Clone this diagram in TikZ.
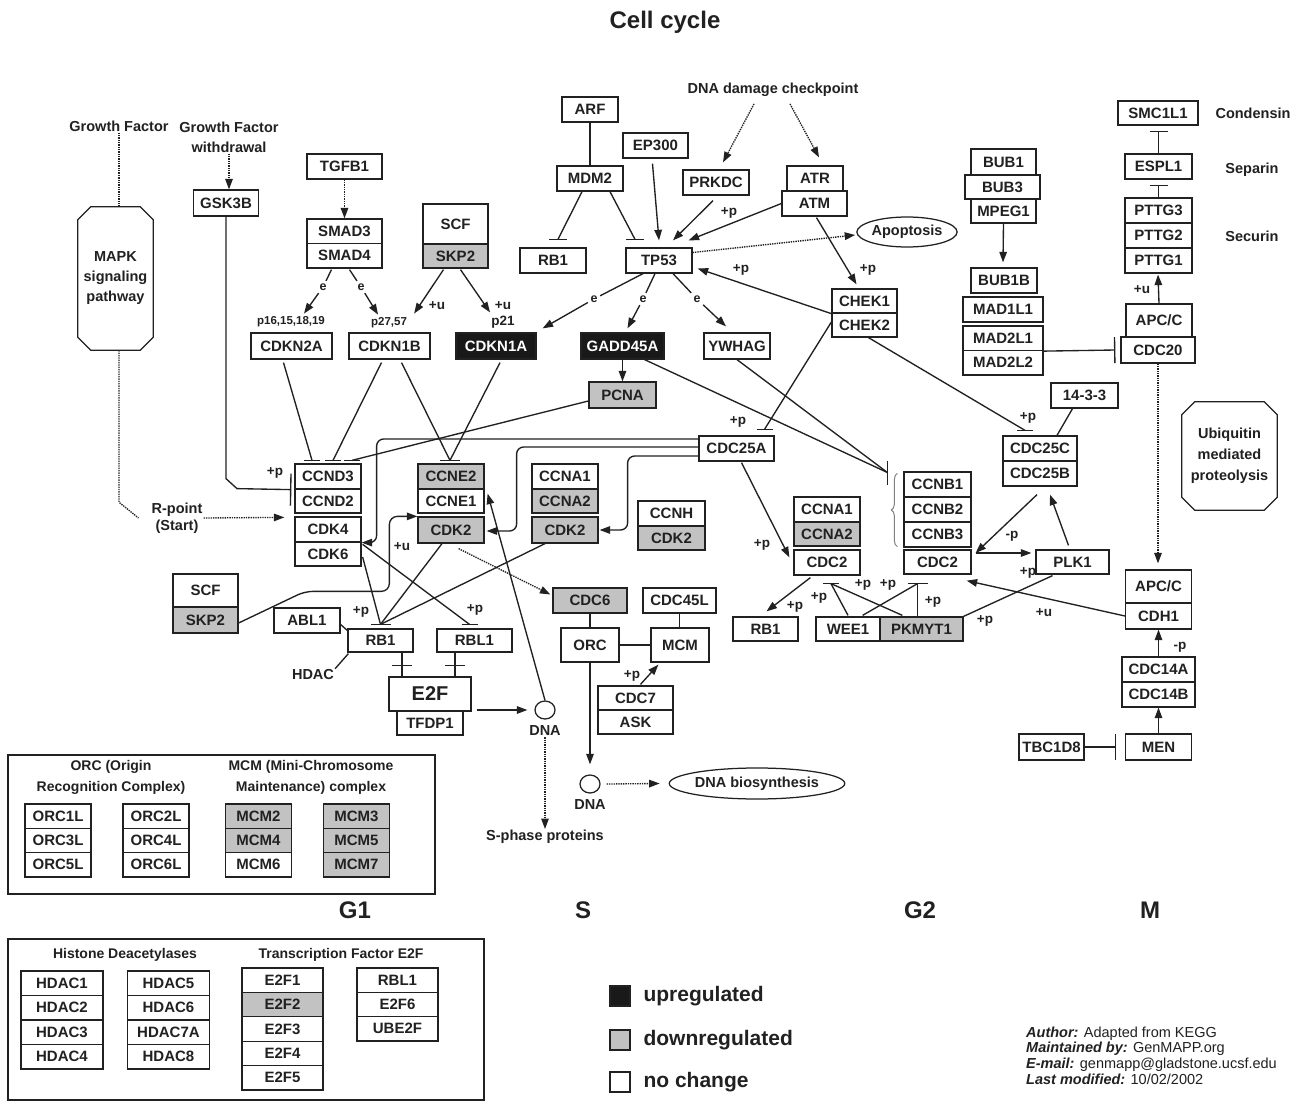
\documentclass[tikz,border=0pt]{standalone}
\usepackage{fontspec}
\setmainfont{Liberation Sans}
\usetikzlibrary{arrows.meta,calc,shapes.geometric,decorations.pathreplacing}
\definecolor{dn}{gray}{0.76}
\definecolor{upc}{gray}{0.1}
\definecolor{ink}{gray}{0.13}
\begin{document}
\begin{tikzpicture}[x=1pt,y=-1pt,
  bx/.style 2 args={draw=ink, line width=1.25pt, fill=white, inner sep=0pt, minimum width=#1, minimum height=#2, font=\bfseries\fontsize{15}{15}\selectfont, text=ink},
  dnreg/.style={fill=dn},
  upreg/.style={fill=upc, text=white},
  lab/.style={font=\bfseries\fontsize{13.5}{13.5}\selectfont, text=ink, inner sep=1pt},
  txt/.style={font=\bfseries\fontsize{14.5}{20}\selectfont, text=ink, align=center, inner sep=1pt},
  el/.style={font=\bfseries\fontsize{12.5}{12.5}\selectfont, text=ink, inner sep=2.5pt},
  ln/.style={draw=ink, line width=1.35pt},
  arr/.style={ln, -{Triangle[length=10.5pt,width=7.5pt]}},
  dotl/.style={ln, densely dotted},
  darr/.style={dotl, -{Triangle[length=10.5pt,width=7.5pt]}},
  tee/.style={ln, -{Bar[width=#1]}}, tee/.default=18pt,
  circ/.style={draw=ink, line width=1.25pt, ellipse, minimum width=20, minimum height=18, inner sep=0pt},
]
\useasboundingbox (0,0) rectangle (1310,1102);
\fill[white] (0,0) rectangle (1310,1102);

% title
\node[font=\bfseries\fontsize{24}{24}\selectfont, text=ink] (title) at (665,22) {Cell cycle};

% ---------- top left ----------
\node[txt] (gf) at (119,126) {Growth Factor};
\node[txt] (gfw) at (229,137) {Growth Factor\\withdrawal};
\node[txt, minimum width=75, minimum height=143] (mapk) at (115.5,278.5) {MAPK\\signaling\\pathway};
\draw[ln, line width=1.25pt] ($(mapk.north west)+(13,0)$) -- ($(mapk.north east)+(-13,0)$) -- ($(mapk.north east)+(0,13)$) -- ($(mapk.south east)+(0,-13)$) -- ($(mapk.south east)+(-13,0)$) -- ($(mapk.south west)+(13,0)$) -- ($(mapk.south west)+(0,-13)$) -- ($(mapk.north west)+(0,13)$) -- cycle;
\node[txt, font=\bfseries\fontsize{14.5}{17}\selectfont] (rpoint) at (177,518) {R-point\\(Start)};
\draw[dotl] (gf.south) -- (gf.south |- mapk.north);
\coordinate (mb) at (gf.south |- mapk.south);
\draw[dotl] (mb) -- ($(mb)+(0,152)$) -- ($(rpoint.west)+(-12,0)$);

\node[bx={65}{26}] (gsk3b) at (226,203) {GSK3B};
\draw[darr] (gfw.south) -- (gfw.south |- gsk3b.north);

\node[bx={75}{25}] (tgfb1) at (344.5,166.5) {TGFB1};
\node[bx={75}{24.5}] (smad3) at (344.5,231.25) {SMAD3};
\node[bx={75}{24.5}] (smad4) at (344.5,255.75) {SMAD4};
\draw[darr] (tgfb1.south) -- (smad3.north);
\node[el] (e1) at (323,287) {e};
\node[el] (e2) at (361,287) {e};
\node[lab, font=\bfseries\fontsize{11.5}{12}\selectfont] (p16) at (291,322) {p16,15,18,19};
\node[lab, font=\bfseries\fontsize{11.5}{12}\selectfont] (p27) at (389,323) {p27,57};
\draw[ln] ($(smad4.south)+(-13,1)$) -- (e1);
\draw[arr] (e1) -- ($(p16.north)+(13,-2)$);
\draw[ln] ($(smad4.south)+(5,1)$) -- (e2);
\draw[arr] (e2) -- ($(p27.north)+(-11,-2)$);

\node[bx={65}{40}] (scf1) at (455.5,224) {SCF};
\node[bx={65}{24}, dnreg] (skp2a) at (455.5,256) {SKP2};
\node[lab] (u1) at (437,306) {+u};
\node[lab] (u2) at (503,306) {+u};
\node[lab] (p21) at (503,322) {p21};

% CDKN row
\node[bx={81}{26}] (cdkn2a) at (291.5,346) {CDKN2A};
\node[bx={81}{26}] (cdkn1b) at (389.5,346) {CDKN1B};
\node[bx={80}{26}, upreg] (cdkn1a) at (496,346) {CDKN1A};
\node[bx={83}{26}, upreg] (gadd45a) at (622.5,346) {GADD45A};
\node[bx={66}{26}] (ywhag) at (737,346) {YWHAG};
\draw[arr] ($(skp2a.south)+(-12,1)$) -- ($(p27.north east)+(6,-3)$);
\draw[arr] ($(skp2a.south)+(5,1)$) -- ($(cdkn1a.north)+(-6,-20)$);

% ---------- TP53 cluster ----------
\node[bx={56}{25}] (arf) at (590,109.5) {ARF};
\node[bx={66}{25}] (mdm2) at (590,178.5) {MDM2};
\node[bx={66}{25}] (rb1a) at (553,260.5) {RB1};
\node[bx={66}{25}] (tp53) at (659,260.5) {TP53};
\node[bx={65}{25}] (ep300) at (655.5,145.5) {EP300};
\node[bx={66}{25}] (prkdc) at (716,182.5) {PRKDC};
\node[bx={56}{25}] (atr) at (815,178.5) {ATR};
\node[bx={65}{25}] (atm) at (814.5,203.5) {ATM};
\node[txt] (dnadc) at (773,90) {DNA damage checkpoint};
\node[txt, draw=ink, line width=1.25pt, ellipse, minimum width=100, minimum height=30, inner sep=0pt] (apop) at (907,232) {Apoptosis};
\node[bx={65}{24}] (chek1) at (864.5,301) {CHEK1};
\node[bx={65}{24}] (chek2) at (864.5,325) {CHEK2};

\draw[ln] (arf) -- (mdm2);
\coordinate (tRB) at ($(rb1a.north)+(5,-8)$);
\draw[ln] ($(mdm2.south)+(-8,0)$) -- (tRB);
\draw[ln] ($(tRB)+(-9,0)$) -- ($(tRB)+(9,0)$);
\coordinate (tTP) at ($(tp53.north)+(-24,-8)$);
\draw[ln] ($(mdm2.south)+(20,0)$) -- (tTP);
\draw[ln] ($(tTP)+(-9,0)$) -- ($(tTP)+(9,0)$);
\draw[arr] ($(ep300.south)+(-3,5)$) -- ($(tp53.north)+(0,-7)$);
\draw[arr] ($(prkdc.south)+(-3,5)$) -- ($(tp53.north)+(14,-7)$);
\draw[arr] (atm.west) -- ($(tp53.north east)+(-4,-7)$);
\node[lab] (lp1) at (729,213) {+p};
\draw[arr] ($(atm.south)+(2,1)$) -- ($(chek1.north)+(-8,-4)$);
\node[lab] (lp2) at (868,270) {+p};
\draw[darr] ($(dnadc.south)+(-19,6)$) -- ($(prkdc.north)+(7,-7)$);
\draw[darr] ($(dnadc.south)+(17,6)$) -- ($(atr.north)+(4,-8)$);
\draw[darr] ($(tp53.east)+(0,-8)$) -- ($(apop.west)+(-1,3)$);
\draw[arr] (chek1.south west) -- ($(tp53.east)+(5,8)$);
\node[lab] (lp3) at (741,270) {+p};

\node[el] (e3) at (594,299) {e};
\node[el] (e4) at (643,299) {e};
\node[el] (e5) at (697,299) {e};
\draw[ln] ($(tp53.south)+(-16,0)$) -- (e3);
\draw[arr] (e3) -- ($(cdkn1a.north east)+(6,-4)$);
\draw[ln] ($(tp53.south)+(-4,0)$) -- (e4);
\draw[arr] (e4) -- ($(gadd45a.north)+(5,-4)$);
\draw[ln] ($(tp53.south)+(14,0)$) -- (e5);
\draw[arr] (e5) -- ($(ywhag.north)+(-11,-6)$);

\node[bx={67}{26}, dnreg] (pcna) at (622.5,395) {PCNA};
\draw[arr] (gadd45a) -- (pcna);

% ---------- right top ----------
\node[bx={65}{26}] (bub1) at (1003.5,162) {BUB1};
\node[bx={75}{24}] (bub3) at (1002.5,187) {BUB3};
\node[bx={65}{24}] (mpeg1) at (1003.5,211) {MPEG1};
\node[bx={66}{25}] (bub1b) at (1004,280.5) {BUB1B};
\node[bx={80}{25}] (mad1l1) at (1003,309.5) {MAD1L1};
\node[bx={80}{24.5}] (mad2l1) at (1003,338.25) {MAD2L1};
\node[bx={80}{24.5}] (mad2l2) at (1003,362.75) {MAD2L2};
\draw[arr] (mpeg1.south) -- ($(bub1b.north)+(-1,-5)$);

\node[bx={80}{24}] (smc1l1) at (1158,113) {SMC1L1};
\node[bx={67}{25}] (espl1) at (1158.5,166.5) {ESPL1};
\node[bx={67}{25}] (pttg3) at (1158.5,210.5) {PTTG3};
\node[bx={67}{25}] (pttg2) at (1158.5,235.5) {PTTG2};
\node[bx={67}{25}] (pttg1) at (1158.5,260.5) {PTTG1};
\node[bx={66}{33}] (apcc1) at (1159,320.5) {APC/C};
\node[bx={74}{26}] (cdc20) at (1158,350) {CDC20};
\node[txt] (condensin) at (1253,113) {Condensin};
\node[txt] (separin) at (1252,170) {Separin};
\node[txt] (securin) at (1252,236) {Securin};
\draw[tee] (espl1.north) -- ($(smc1l1.south)+(0.5,5)$);
\draw[tee] (pttg3.north) -- ($(espl1.south)+(0,5)$);
\draw[arr] (apcc1.north) -- ($(pttg1.south)+(-0.5,1)$);
\node[lab] (lu3) at (1142,290) {+u};
\draw[tee=26pt] (mad2l1.south east) -- ($(cdc20.west)+(-5,0)$);

\node[txt, minimum width=95, minimum height=108, font=\bfseries\fontsize{14.5}{21}\selectfont] (ubq) at (1229.5,456) {Ubiquitin\\mediated\\proteolysis};
\draw[ln, line width=1.25pt] ($(ubq.north west)+(13,0)$) -- ($(ubq.north east)+(-13,0)$) -- ($(ubq.north east)+(0,13)$) -- ($(ubq.south east)+(0,-13)$) -- ($(ubq.south east)+(-13,0)$) -- ($(ubq.south west)+(13,0)$) -- ($(ubq.south west)+(0,-13)$) -- ($(ubq.north west)+(0,13)$) -- cycle;

% ---------- G2 right ----------
\node[bx={67}{25}] (b1433) at (1084.5,395.5) {14-3-3};
\node[bx={74}{25}] (cdc25c) at (1040,448.5) {CDC25C};
\node[bx={74}{25}] (cdc25b) at (1040,473.5) {CDC25B};
\draw[ln] ($(b1433.south)+(-12,0)$) -- ($(cdc25c.north)+(17,0)$);
\coordinate (tC) at ($(cdc25c.north)+(-15,-5)$);
\draw[ln] ($(chek2.south)+(4,0)$) -- (tC);
\draw[ln] ($(tC)+(-8,0)$) -- ($(tC)+(8,0)$);
\node[lab] (lp4) at (1028,418) {+p};

\node[bx={75}{25}] (cdc25a) at (736.5,448.5) {CDC25A};
\coordinate (tA) at ($(cdc25a.north)+(28,-6)$);
\draw[ln] ($(chek2.west)+(0,-3)$) -- (tA);
\draw[ln] ($(tA)+(-8,0)$) -- ($(tA)+(8,0)$);
\node[lab] (lp5) at (738,422) {+p};

\node[bx={67}{25}] (ccnb1) at (937.5,484.5) {CCNB1};
\node[bx={67}{25}] (ccnb2) at (937.5,509.5) {CCNB2};
\node[bx={67}{25}] (ccnb3) at (937.5,534.5) {CCNB3};
\node[bx={67}{24}] (cdc2c) at (937.5,562) {CDC2};
\draw[draw=gray, line width=1pt, decorate, decoration={brace, amplitude=6pt}] ($(ccnb3.south west)+(-6,-1)$) -- ($(ccnb1.north west)+(-6,2)$);
\coordinate (tB) at ($(ccnb1.west)+(-16,-12)$);
\draw[ln] ($(gadd45a.south east)+(-20,0)$) -- (tB);
\draw[ln] (ywhag.south) -- (tB);
\draw[ln] ($(tB)+(0,-12)$) -- ($(tB)+(0,12)$);

\node[bx={73}{24}] (plk1) at (1072.5,562) {PLK1};
\draw[arr] ($(cdc25b.south)+(-3,8)$) -- ($(cdc2c.east)+(4,-9)$);
\node[lab] (lm1) at (1012,536) {-p};
\draw[arr] ($(cdc2c.east)+(4,-9)$) -- ($(plk1.west)+(-4,-9)$);
\draw[arr] ($(plk1.north)+(-4,-4)$) -- ($(cdc25b.south)+(10,8)$);
\node[lab] (lp6) at (1028,573) {+p};
\node[bx={83}{24}, dnreg] (pkmyt1) at (921.5,629) {PKMYT1};
\draw[ln] ($(plk1.south)+(-20,1)$) -- (pkmyt1.north east);
\node[lab] (lp7) at (985,621) {+p};

\node[bx={66}{33}] (apcc2) at (1158.5,586.5) {APC/C};
\node[bx={66}{26}] (cdh1) at (1158.5,616) {CDH1};
\draw[darr] (cdc20.south) -- ($(apcc2.north)+(-0.5,-6)$);
\draw[arr] (cdh1.west) -- ($(cdc2c.south east)+(-5,6)$);
\node[lab] (lu4) at (1044,613) {+u};
\node[bx={73}{25}] (cdc14a) at (1158.5,669.5) {CDC14A};
\node[bx={73}{25}] (cdc14b) at (1158.5,694.5) {CDC14B};
\draw[arr] (cdc14a.north) -- (cdh1.south);
\node[lab] (lm2) at (1180,647) {-p};
\node[bx={66}{26}] (men) at (1158.5,747) {MEN};
\node[bx={65}{26}] (tbc1d8) at (1051.5,747) {TBC1D8};
\draw[arr] (men.north) -- (cdc14b.south);
\draw[tee=26pt] (tbc1d8.east) -- ($(men.west)+(-9,0)$);

% ---------- G2 middle ----------
\node[bx={66}{25}] (ccna1b) at (827,509.5) {CCNA1};
\node[bx={66}{24}, dnreg] (ccna2b) at (827,534) {CCNA2};
\node[bx={66}{25}] (cdc2b) at (827,562.5) {CDC2};
\draw[arr] ($(cdc25a.south)+(5,1)$) -- ($(cdc2b.north west)+(-4,8)$);
\node[lab] (lp8) at (762,545) {+p};
\node[bx={65}{24}] (rb1c) at (765.5,629) {RB1};
\node[bx={64}{24}] (wee1) at (848,629) {WEE1};
\draw[arr] ($(cdc2b.south west)+(17,2)$) -- ($(rb1c.north)+(1,-5)$);
\node[lab] (lp9) at (795,607) {+p};
\coordinate (tD) at ($(cdc2b.south)+(4,8)$);
\draw[ln] ($(wee1.north)+(0,-1)$) -- (tD);
\draw[ln] ($(pkmyt1.north west)+(23,-1)$) -- (tD);
\draw[ln] ($(tD)+(-8,0)$) -- ($(tD)+(8,0)$);
\coordinate (tE) at ($(cdc2c.south)+(-20,9)$);
\draw[ln] ($(wee1.north east)+(-18,-1)$) -- (tE);
\draw[ln] (pkmyt1.north -| tE) -- (tE);
\draw[ln] ($(tE)+(-10,0)$) -- ($(tE)+(10,0)$);
\node[lab] (lp10) at (819,598) {+p};
\node[lab] (lp11) at (863,585) {+p};
\node[lab] (lp12) at (888,585) {+p};
\node[lab] (lp13) at (933,602) {+p};

% ---------- G1 complexes ----------
\node[bx={66}{25}] (ccnd3) at (328,476.5) {CCND3};
\node[bx={66}{24}] (ccnd2) at (328,501) {CCND2};
\node[bx={66}{25}] (cdk4) at (328,529.5) {CDK4};
\node[bx={66}{24}] (cdk6) at (328,554) {CDK6};
\node[bx={66}{25}, dnreg] (ccne2) at (451,476.5) {CCNE2};
\node[bx={66}{24}] (ccne1) at (451,501) {CCNE1};
\node[bx={66}{26}, dnreg] (cdk2a) at (451,530) {CDK2};
\node[bx={66}{25}] (ccna1a) at (565,476.5) {CCNA1};
\node[bx={66}{24}, dnreg] (ccna2a) at (565,501) {CCNA2};
\node[bx={66}{26}, dnreg] (cdk2b) at (565,530) {CDK2};
\node[bx={67}{25}] (ccnh) at (671.5,513.5) {CCNH};
\node[bx={67}{24}, dnreg] (cdk2c) at (671.5,538) {CDK2};

\draw[tee=32pt] (gsk3b.south) -- ($(gsk3b.south)+(0,262)$) -- ($(gsk3b.south)+(11,272)$) -- ($(ccnd3.south west)+(-3,0)$);
\node[lab] (lp0) at (275,473) {+p};
\draw[darr] (rpoint.east) -- ($(cdk4.north west)+(-10,1)$);

\coordinate (tD1) at ($(ccnd3.north)+(-16,-3)$);
\coordinate (tD2) at ($(ccnd3.north)+(5,-3)$);
\coordinate (tD3) at ($(ccnd3.north)+(24,-3)$);
\draw[ln] ($(cdkn2a.south)+(-8,3)$) -- (tD1);
\draw[ln] ($(cdkn1b.south)+(-8,3)$) -- (tD2);
\draw[ln] ($(pcna.west)+(0,6)$) -- (tD3);
\draw[ln] ($(tD1)+(-8,0)$) -- ($(tD1)+(8,0)$);
\draw[ln] ($(tD2)+(-8,0)$) -- ($(tD2)+(8,0)$);
\draw[ln] ($(tD3)+(-8,0)$) -- ($(tD3)+(8,0)$);
\coordinate (tE2) at ($(ccne2.north)+(-1,-3)$);
\draw[ln] ($(cdkn1b.south)+(12,3)$) -- (tE2);
\draw[ln] ($(cdkn1a.south)+(4,3)$) -- (tE2);
\draw[ln] ($(tE2)+(-10,0)$) -- ($(tE2)+(10,0)$);

\draw[arr, rounded corners=7] ($(cdc25a.west)+(0,-9.5)$) -| ($(cdk4.south east)+(15,0)$) [sharp corners] -- (cdk4.south east);
\draw[arr, rounded corners=7] ($(cdc25a.west)+(0,-1.5)$) -| ($(cdk2a.east)+(32,1)$) [sharp corners] -- ($(cdk2a.east)+(2,1)$);
\draw[arr, rounded corners=7] ($(cdc25a.west)+(0,7.5)$) -| ($(cdk2b.east)+(29,0)$) [sharp corners] -- ($(cdk2b.east)+(1,0)$);

% ---------- S phase ----------
\node[circ] (dna1) at (545,710) {};
\node[txt] (dna1l) at (545,731) {DNA};
\draw[arr] (dna1.north) -- ($(ccne2.south east)+(3,4)$);
\node[bx={74}{25}, dnreg] (cdc6) at (590,600.5) {CDC6};
\node[bx={73}{25}] (cdc45l) at (679.5,600.5) {CDC45L};
\node[bx={58}{34}] (orc) at (590,645) {ORC};
\node[bx={58}{34}] (mcm) at (680,645) {MCM};
\node[bx={75}{24}] (cdc7) at (635.5,698) {CDC7};
\node[bx={75}{24}] (ask) at (635.5,722) {ASK};
\draw[darr] ($(cdk2a.south east)+(-26,5)$) -- ($(cdc6.west)+(-2,-6)$);
\draw[ln] (cdc6) -- (orc);
\draw[ln] (cdc45l.south) -- (cdc45l.south |- mcm.north);
\draw[ln] (orc) -- (mcm);
\draw[arr] ($(cdc7.north)+(5,-1)$) -- ($(mcm.south west)+(8,2)$);
\node[lab] (lp14) at (632,676) {+p};
\node[circ] (dna2) at (590,784) {};
\node[txt] (dna2l) at (590,805) {DNA};
\draw[arr, shorten >=10pt] (orc.south) -- (dna2.north);
\node[txt, draw=ink, line width=1.25pt, ellipse, minimum width=138, minimum height=31, inner sep=0pt] (dnabio) at (757,783.5) {DNA biosynthesis};
\draw[darr] ($(dna2.east)+(6,0)$) -- ($(dnabio.west)+(-9,0)$);
\node[txt] (sphase) at (545,837) {S-phase proteins};
\draw[darr] (dna1l.south) -- (sphase.north);

% ---------- RB / E2F ----------
\node[bx={65}{33}] (scf2) at (205.5,590.5) {SCF};
\node[bx={65}{26}, dnreg] (skp2b) at (205.5,620) {SKP2};
\node[bx={66}{25}] (abl1) at (307,620.5) {ABL1};
\node[bx={65}{23}] (rb1b) at (380.5,640.5) {RB1};
\node[bx={75}{23}] (rbl1) at (474.5,640.5) {RBL1};
\node[bx={82}{34}, font=\bfseries\fontsize{20}{20}\selectfont] (e2f) at (430,694) {E2F};
\node[bx={66}{24}] (tfdp1) at (430,723) {TFDP1};
\node[txt] (hdac) at (313,675) {HDAC};
\draw[ln] ($(abl1.east)+(0,4)$) -- ($(rb1b.north west)+(1,3)$);
\draw[ln] ($(rb1b.south west)+(1,1)$) -- (hdac.north east);
\draw[ln] ($(rb1b.south)+(21.5,0)$) -- ($(e2f.north)+(-28,0)$);
\draw[ln] ($(e2f.north)+(-38,-11)$) -- ($(e2f.north)+(-18,-11)$);
\draw[ln] ($(rbl1.south)+(-19.5,0)$) -- ($(e2f.north)+(25,0)$);
\draw[ln] ($(e2f.north)+(15,-11)$) -- ($(e2f.north)+(35,-11)$);
\draw[arr, shorten >=7pt] ($(e2f.east)+(5,16)$) -- (dna1.west);

\coordinate (tR) at ($(rb1b.north)+(0,-4)$);
\draw[ln] ($(cdk6.east)+(1,3)$) -- (tR);
\draw[ln] ($(cdk2a.south)+(-9,0)$) -- (tR);
\draw[ln] ($(cdk2b.south)+(-20,0)$) -- (tR);
\draw[ln] ($(tR)+(-10,0)$) -- ($(tR)+(10,0)$);
\node[lab] (lp15) at (361,612) {+p};
\coordinate (tR2) at ($(rbl1.north)+(-5,-4)$);
\draw[ln] ($(cdk6.north east)+(1,3)$) -- (tR2);
\draw[ln] ($(tR2)+(-8,0)$) -- ($(tR2)+(8,0)$);
\node[lab] (lp16) at (475,610) {+p};

\draw[arr, rounded corners=8] ($(skp2b.east)+(0,3)$) -- ($(abl1.north)+(-2,-16)$) -- ($(cdk2a.north west)+(-28,75)$) |- (cdk2a.north west);
\node[lab] (lu5) at (402,547) {+u};

% ---------- legend boxes ----------
\node[draw=ink, line width=1.25pt, minimum width=427, minimum height=139, inner sep=0pt] (frame1) at (221.5,824.5) {};
\node[draw=ink, line width=1.25pt, minimum width=476, minimum height=161, inner sep=0pt] (frame2) at (246,1019.5) {};
\node[txt, font=\bfseries\fontsize{14}{21}\selectfont] (orct) at (111,777.5) {ORC (Origin\\Recognition Complex)};
\node[txt, font=\bfseries\fontsize{14}{21}\selectfont] (mcmt) at (311,777.5) {MCM (Mini-Chromosome\\Maintenance) complex};
\node[txt, font=\bfseries\fontsize{14}{21}\selectfont] (hdt) at (125,955) {Histone Deacetylases};
\node[txt, font=\bfseries\fontsize{14}{21}\selectfont] (e2ft) at (341,955) {Transcription Factor E2F};
\foreach \n/\x/\y/\f in {ORC1L/58/816.2/white, ORC3L/58/840.5/white, ORC5L/58/864.8/white,
  ORC2L/156/816.2/white, ORC4L/156/840.5/white, ORC6L/156/864.8/white,
  MCM2/258.5/816.2/dn, MCM4/258.5/840.5/dn, MCM6/258.5/864.8/white,
  MCM3/356.5/816.2/dn, MCM5/356.5/840.5/dn, MCM7/356.5/864.8/dn}
  \node[bx={66}{24.3}, fill=\f] (\n) at (\x,\y) {\n};
\foreach \n/\x/\y in {HDAC1/62/983.25, HDAC2/62/1007.75, HDAC3/62/1032.25, HDAC4/62/1056.75,
  HDAC5/168.5/983.25, HDAC6/168.5/1007.75, HDAC7A/168.5/1032.25, HDAC8/168.5/1056.75}
  \node[bx={82}{24.5}] (\n) at (\x,\y) {\n};
\foreach \n/\x/\y/\f in {E2F1/282.5/980.2/white, E2F2/282.5/1004.6/dn, E2F3/282.5/1029/white, E2F4/282.5/1053.4/white, E2F5/282.5/1077.8/white,
  RBL1/397.5/980.2/white, E2F6/397.5/1004.5/white, UBE2F/397.5/1028.8/white}
  \node[bx={81}{24.4}, fill=\f] (\n) at (\x,\y) {\n};

% phases
\node[font=\bfseries\fontsize{24}{24}\selectfont, text=ink] (g1) at (355,910) {G1};
\node[font=\bfseries\fontsize{24}{24}\selectfont, text=ink] (sph) at (583,910) {S};
\node[font=\bfseries\fontsize{24}{24}\selectfont, text=ink] (g2) at (920,910) {G2};
\node[font=\bfseries\fontsize{24}{24}\selectfont, text=ink] (mph) at (1150,910) {M};

% legend
\node[draw=ink, fill=upc, minimum size=20, inner sep=0pt, line width=1.25pt] (lgup) at (620,996) {};
\node[draw=ink, fill=dn, minimum size=20, inner sep=0pt, line width=1.25pt] (lgdn) at (620,1040) {};
\node[draw=ink, fill=white, minimum size=20, inner sep=0pt, line width=1.25pt] (lgnc) at (620,1082) {};
\node[font=\bfseries\fontsize{21}{21}\selectfont, text=ink, anchor=west] (lguptx) at (640,996) {upregulated};
\node[font=\bfseries\fontsize{21}{21}\selectfont, text=ink, anchor=west] (lgdntx) at (640,1040) {downregulated};
\node[font=\bfseries\fontsize{21}{21}\selectfont, text=ink, anchor=west] (lgnctx) at (640,1082) {no change};

\node[anchor=west, font=\fontsize{14.5}{15.6}\selectfont, text=ink, align=left, inner sep=0pt] (author) at (1026,1055.5) {\textbf{\textit{Author:}} Adapted from KEGG\\\textbf{\textit{Maintained by:}} GenMAPP.org\\\textbf{\textit{E-mail:}} genmapp@gladstone.ucsf.edu\\\textbf{\textit{Last modified:}} 10/02/2002};
\end{tikzpicture}
\end{document}
